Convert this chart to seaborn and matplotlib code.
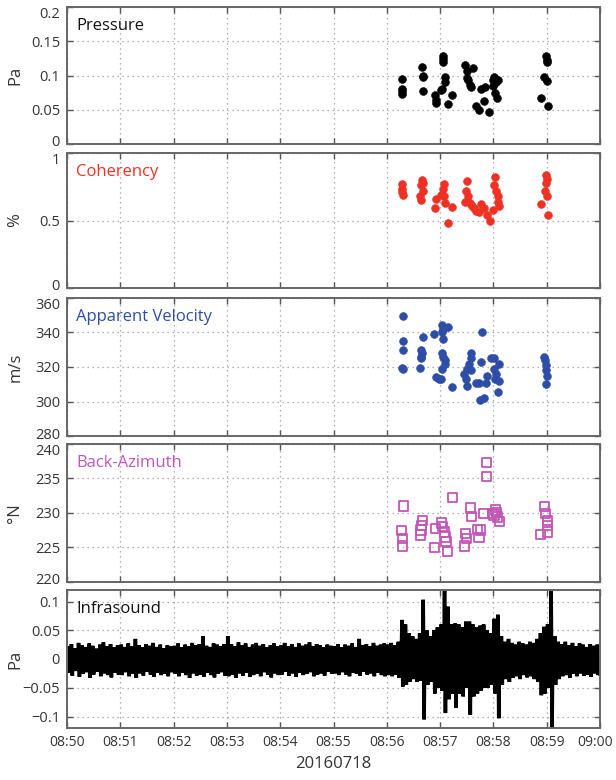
import matplotlib
matplotlib.use("Agg")
import matplotlib.pyplot as plt
import matplotlib.transforms as mtransforms
import seaborn as sns
import numpy as np
import pandas as pd
from matplotlib.ticker import FixedLocator, FixedFormatter

# ---------------- data (times in minutes after 08:00) ----------------
x_ticks = [50, 51, 52, 53, 54, 55, 56, 57, 58, 59, 60]
x_tick_labels = ["08:50", "08:51", "08:52", "08:53", "08:54", "08:55",
                 "08:56", "08:57", "08:58", "08:59", "09:00"]
x_label = "20160718"

pressure_t = [56.29, 56.29, 56.29, 56.29, 56.66, 56.67, 56.67, 56.67,
              57.05, 57.05, 57.06, 57.09, 57.09, 57.03, 57.01,
              56.90, 56.92, 56.93, 57.14, 57.23,
              57.46, 57.50, 57.51, 57.53, 57.56, 57.58, 57.62,
              57.76, 57.84, 57.67, 57.73, 57.83, 57.92,
              58.02, 58.05, 58.00, 58.03, 58.06, 58.00, 58.08,
              58.99, 59.00, 59.01, 58.95, 59.01, 58.89, 59.03]
pressure_v = [0.095, 0.081, 0.077, 0.073, 0.113, 0.100, 0.098, 0.077,
              0.129, 0.124, 0.120, 0.098, 0.090, 0.080, 0.079,
              0.071, 0.064, 0.060, 0.058, 0.071,
              0.115, 0.106, 0.096, 0.093, 0.086, 0.083, 0.111,
              0.080, 0.083, 0.056, 0.050, 0.063, 0.047,
              0.098, 0.091, 0.084, 0.074, 0.067, 0.094, 0.094,
              0.128, 0.123, 0.120, 0.098, 0.092, 0.067, 0.055]

coherency_t = [56.29, 56.29, 56.29, 56.30,
               56.66, 56.67, 56.64, 56.67, 56.63, 56.64,
               56.92, 56.91,
               57.07, 57.05, 57.02, 57.08, 57.09, 57.14, 57.23,
               57.50, 57.49, 57.52, 57.47, 57.57, 57.60, 57.63,
               57.67, 57.73, 57.76, 57.83, 57.88, 57.94,
               58.03, 58.02, 58.05, 58.08, 58.09, 58.11, 58.00,
               58.99, 59.01, 58.99, 58.96, 59.00, 58.89, 59.03]
coherency_v = [0.77, 0.73, 0.71, 0.69,
               0.80, 0.78, 0.76, 0.72, 0.68, 0.65,
               0.66, 0.59,
               0.77, 0.73, 0.69, 0.68, 0.63, 0.48, 0.60,
               0.79, 0.72, 0.68, 0.64, 0.63, 0.61, 0.59,
               0.57, 0.56, 0.62, 0.59, 0.54, 0.50,
               0.82, 0.76, 0.72, 0.68, 0.64, 0.61, 0.58,
               0.84, 0.81, 0.78, 0.72, 0.68, 0.62, 0.54]

velocity_t = [56.31, 56.30, 56.30, 56.29, 56.31,
              56.67, 56.65, 56.66, 56.64, 56.65, 56.63,
              57.04, 57.14, 57.06, 57.04, 57.05, 56.89,
              57.03, 57.06, 57.09, 57.10, 57.03, 56.92, 56.98, 57.01, 57.23,
              57.58, 57.58, 57.54, 57.50, 57.45, 57.48, 57.51, 57.58,
              57.78, 57.76, 57.67, 57.73, 57.86, 57.88, 57.75, 57.83,
              57.95, 58.01, 58.11, 58.01, 58.04, 58.03, 58.11, 58.08,
              58.95, 58.96, 58.98, 58.99, 59.00, 58.98]
velocity_v = [349.5, 335, 330, 319.4, 318.7,
              337.3, 330, 328, 326, 325, 319.6,
              344, 343, 342, 340, 336, 339,
              328, 326, 324, 322, 318.6, 314, 313, 313, 308.5,
              328, 325, 322, 319, 316, 313, 309, 318,
              340, 323, 311, 311, 311, 315, 301, 302,
              325, 325, 321.5, 319, 316, 313, 312, 305.6,
              326, 324, 321, 318, 315, 310]

azimuth_t = [56.31, 56.28, 56.29, 56.30,
             56.67, 56.65, 56.64, 56.63, 56.92, 56.90,
             57.03, 57.05, 57.08, 57.09, 57.11, 57.14, 57.23,
             57.57, 57.59, 57.48, 57.50, 57.46,
             57.70, 57.76, 57.73, 57.81, 57.87, 57.87,
             57.98, 58.04, 58.08, 58.11, 58.01, 58.06,
             58.96, 58.98, 59.01, 59.02, 58.89, 59.01]
azimuth_v = [231.0, 227.4, 226.3, 225.2,
             228.9, 228.2, 227.5, 226.8, 227.7, 225.0,
             228.5, 228.0, 227.2, 226.5, 225.8, 224.4, 232.2,
             230.7, 229.5, 227.0, 226.3, 225.2,
             227.6, 227.5, 226.4, 229.9, 237.3, 235.3,
             229.9, 230.4, 229.4, 228.7, 229.7, 230.0,
             230.9, 229.9, 228.9, 228.2, 226.9, 227.2]

# infrasound: positive and negative peak amplitudes (Pa), one pair per 4 s from 08:50
infra_hi = [.022, .026, .019, .028, .024, .021, .027, .023, .018, .025, .029, .022, .026, .020, .024,
            .025, .021, .027, .022, .035, .024, .020, .026, .023, .028, .021, .025, .019, .024, .022,
            .023, .027, .020, .025, .022, .028, .024, .026, .040, .023, .021, .027, .025, .022, .026,
            .040, .026, .022, .029, .024, .027, .021, .025, .028, .023, .026, .020, .024, .027, .022,
            .024, .028, .022, .026, .021, .027, .023, .025, .029, .022, .026, .024, .020, .025, .023,
            .022, .026, .020, .025, .023, .027, .021, .035, .024, .026, .022, .028, .023, .025, .027,
            .025, .028, .024, .030, .068, .060, .045, .040, .035, .045, .103, .050, .040, .050, .055,
            .060, .130, .091, .060, .062, .060, .055, .065, .065, .060, .055, .058, .060, .050, .045,
            .070, .077, .040, .030, .035, .028, .025, .030, .027, .025, .030, .028, .035, .045, .056,
            .060, .130, .040, .030, .026, .030, .024, .028, .022, .027, .025, .021, .026, .023, .025]
infra_lo = [-.024, -.029, -.021, -.031, -.026, -.023, -.033, -.027, -.022, -.030, -.025, -.028, -.032, -.024, -.027,
            -.028, -.023, -.030, -.026, -.033, -.025, -.029, -.022, -.027, -.031, -.024, -.028, -.026, -.030, -.023,
            -.026, -.030, -.024, -.028, -.033, -.025, -.029, -.027, -.031, -.024, -.028, -.032, -.026, -.023, -.029,
            -.030, -.027, -.033, -.025, -.029, -.024, -.031, -.028, -.026, -.030, -.023, -.027, -.032, -.025, -.028,
            -.027, -.022, -.029, -.025, -.031, -.024, -.028, -.026, -.023, -.030, -.027, -.025, -.029, -.022, -.026,
            -.025, -.028, -.023, -.027, -.030, -.024, -.026, -.029, -.022, -.027, -.025, -.030, -.024, -.028, -.030,
            -.028, -.030, -.027, -.033, -.048, -.045, -.040, -.035, -.040, -.038, -.105, -.045, -.040, -.060, -.050,
            -.055, -.094, -.070, -.060, -.085, -.060, -.065, -.050, -.097, -.065, -.060, -.055, -.050, -.050, -.045,
            -.060, -.103, -.045, -.035, -.040, -.033, -.030, -.035, -.028, -.032, -.030, -.035, -.040, -.063, -.060,
            -.050, -.130, -.045, -.035, -.030, -.028, -.033, -.026, -.030, -.025, -.029, -.027, -.031, -.025, -.028]

# ---------------- figure ----------------
sns.set_theme(style="ticks")
plt.rcParams["font.family"] = ["Open Sans", "DejaVu Sans"]
plt.rcParams["path.simplify"] = False

W, H = 616, 780
fig = plt.figure(figsize=(W / 100, H / 100), dpi=100)

def ax_at(top_px, bot_px, left_px=67, right_px=600):
    return fig.add_axes([left_px / W, 1 - bot_px / H, (right_px - left_px) / W, (bot_px - top_px) / H])

axes = [ax_at(7, 144), ax_at(153, 288), ax_at(297.6, 436.4), ax_at(443.8, 581.8), ax_at(590, 728)]

red = "#ee3124"
blue = "#2d4da6"
mag = "#c256b6"

sns.scatterplot(x=pressure_t, y=pressure_v, ax=axes[0], color="black", s=32, edgecolor="black", linewidth=0.4)
sns.scatterplot(x=coherency_t, y=coherency_v, ax=axes[1], color=red, s=32, edgecolor=red, linewidth=0.4)
sns.scatterplot(x=velocity_t, y=velocity_v, ax=axes[2], color=blue, s=32, edgecolor=blue, linewidth=0.4)
sns.scatterplot(x=azimuth_t, y=azimuth_v, ax=axes[3], marker="s", s=45, facecolor="none",
                edgecolor=mag, linewidth=1.3)

# infrasound waveform: each 4 s window swings twice between its positive and negative peak
wt, wv = [], []
for i in range(len(infra_hi)):
    t0 = 50 + i * 4 / 60.0
    for j, val in enumerate([infra_hi[i], infra_lo[i], infra_hi[i], infra_lo[i]]):
        wt.append(t0 + j / 60.0)
        wv.append(val)
wave = pd.DataFrame({"t": wt, "v": wv})
sns.lineplot(data=wave, x="t", y="v", ax=axes[4], color="black", linewidth=1.3,
             estimator=None, sort=False, solid_joinstyle="miter")

ylims = [(0, 0.2), (0, 1), (280, 360), (220, 240), (-0.12, 0.12)]
yticks = [[0, 0.05, 0.1, 0.15, 0.2], [0, 0.5, 1], [280, 300, 320, 340, 360],
          [220, 225, 230, 235, 240], [-0.1, -0.05, 0, 0.05, 0.1]]
ytlabels = [["0", "0.05", "0.1", "0.15", "0.2"], ["0", "0.5", "1"],
            ["280", "300", "320", "340", "360"], ["220", "225", "230", "235", "240"],
            ["\u22120.1", "\u22120.05", "0", "0.05", "0.1"]]
ylabels = ["Pa", "%", "m/s", "\u00b0N", "Pa"]
titles = ["Pressure", "Coherency", "Apparent Velocity", "Back-Azimuth", "Infrasound"]
tcolors = ["#111111", red, blue, mag, "#111111"]

for k, ax in enumerate(axes):
    ax.set_xlim(50, 60)
    ax.set_ylim(*ylims[k])
    ax.xaxis.set_major_locator(FixedLocator(x_ticks))
    ax.yaxis.set_major_locator(FixedLocator(yticks[k]))
    ax.yaxis.set_major_formatter(FixedFormatter(ytlabels[k]))
    ax.grid(True, linestyle=(0, (1, 3)), color="#999999", linewidth=0.9)
    ax.set_axisbelow(True)
    ax.tick_params(direction="in", top=True, right=True, length=4, width=1,
                   color="#555555", labelcolor="#333333", pad=5)
    ax.tick_params(axis="y", labelsize=10.5)
    ax.tick_params(axis="x", labelsize=10)
    for sp in ax.spines.values():
        sp.set_color("#666666")
        sp.set_linewidth(1.4)
    ax.set_ylabel(ylabels[k], fontsize=12, color="#333333")
    ax.yaxis.set_label_coords(-0.082, 0.5)
    ax.text(0.017, 0.86, titles[k], transform=ax.transAxes, fontsize=12,
            color=tcolors[k], ha="left", va="center")
    if k < 4:
        ax.set_xticklabels([])
        ax.set_xlabel("")
        # nudge the end labels inward like the original
        lbls = ax.get_yticklabels()
        lbls[-1].set_transform(lbls[-1].get_transform() +
                               mtransforms.ScaledTranslation(0, -6 / 100, fig.dpi_scale_trans))
        lbls[0].set_transform(lbls[0].get_transform() +
                              mtransforms.ScaledTranslation(0, 3 / 100, fig.dpi_scale_trans))
    else:
        ax.xaxis.set_major_formatter(FixedFormatter(x_tick_labels))
        ax.set_xlabel(x_label, fontsize=12, color="#333333", labelpad=4)
        xl = ax.get_xticklabels()
        xl[-1].set_transform(xl[-1].get_transform() +
                             mtransforms.ScaledTranslation(-5 / 100, 0, fig.dpi_scale_trans))

fig.savefig("out.png", dpi=100, facecolor="white")
